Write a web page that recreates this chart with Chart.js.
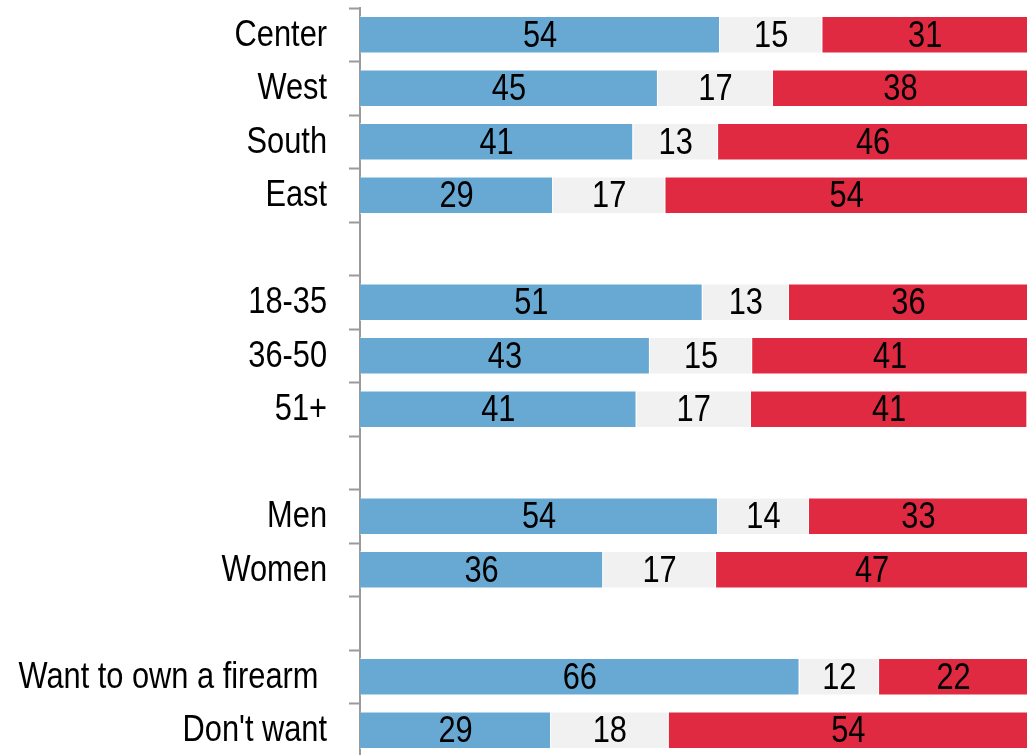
<!DOCTYPE html>
<html>
<head>
<meta charset="utf-8">
<script src="https://cdn.jsdelivr.net/npm/chart.js@4/dist/chart.umd.min.js"></script>
<style>
  html, body { margin: 0; padding: 0; background: #fff; overflow: hidden; }
  canvas { display: block; }
</style>
</head>
<body>
<canvas id="chartCanvas" width="1028" height="762"></canvas>
<script>
// categories (blank entries are the gaps between groups)
const categories = ['Center', 'West', 'South', 'East', '',
  '18-35', '36-50', '51+', '',
  'Men', 'Women', '',
  'Want to own a firearm ', "Don't want"];

// shares in %; labels show rounded values
const blueValues = [53.9, 44.6, 40.9, 28.9, null, 51.3, 43.4, 41.4, null, 53.6, 36.4, null, 65.8, 28.6];
const greyValues = [15.3, 17.2, 12.7, 16.8, null, 12.9, 15.3, 17.1, null, 13.6, 16.9, null, 11.9, 17.6];
const redValues  = [30.8, 38.2, 46.4, 54.3, null, 35.8, 41.3, 41.4, null, 32.8, 46.7, null, 22.3, 53.8];

const FONT = '36px "Liberation Sans", Arial, sans-serif';
const NARROW = 0.855; // squeeze Liberation Sans to look like Arial Narrow

function narrowText(ctx, text, x, y, align) {
    ctx.save();
    ctx.translate(x, y);
    ctx.scale(NARROW, 1);
    ctx.textAlign = align;
    ctx.fillText(text, 0, 0);
    ctx.restore();
}

const narrowLabels = {
    id: 'narrowLabels',
    afterDatasetsDraw(chart) {
        const ctx = chart.ctx;
        ctx.save();
        ctx.font = FONT;
        ctx.fillStyle = '#000';
        ctx.textBaseline = 'middle';
        // value labels in the bars
        chart.data.datasets.forEach((ds, i) => {
            chart.getDatasetMeta(i).data.forEach((bar, j) => {
                const v = ds.data[j];
                if (v == null) return;
                const p = bar.getCenterPoint();
                narrowText(ctx, String(Math.round(v)), p.x, p.y + 2, 'center');
            });
        });
        // category labels
        const yScale = chart.scales.y;
        categories.forEach((c, i) => {
            if (!c) return;
            narrowText(ctx, c, 327, yScale.getPixelForTick(i) + 1, 'right');
        });
        ctx.restore();
    }
};

const canvas = document.getElementById('chartCanvas').getContext('2d');

const chart = new Chart(canvas, {
    type: 'bar',
    data: {
        labels: categories,
        datasets: [
            { data: blueValues, backgroundColor: '#68a9d4', borderColor: 'rgba(255,255,255,0.5)', borderWidth: 1 },
            { data: greyValues, backgroundColor: '#f1f1f1', borderColor: 'rgba(255,255,255,0.5)', borderWidth: 1 },
            { data: redValues, backgroundColor: '#df2a42', borderColor: 'rgba(255,255,255,0.5)', borderWidth: 1 }
        ]
    },
    options: {
        indexAxis: 'y',
        responsive: false,
        animation: false,
        layout: { padding: { top: 8, bottom: 5, right: 0, left: 0 } },
        datasets: { bar: { categoryPercentage: 1, barPercentage: 0.7 } },
        plugins: { legend: { display: false }, tooltip: { enabled: false } },
        scales: {
            x: {
                display: false,
                stacked: true,
                min: 0,
                max: 100
            },
            y: {
                stacked: true,
                afterFit: scale => {
                    scale.width = 360;
                    scale.paddingTop = 0;
                    scale.paddingBottom = 0;
                },
                grid: {
                    offset: true,
                    drawOnChartArea: false,
                    tickLength: 11,
                    tickWidth: 2,
                    tickColor: '#9a9a9a'
                },
                border: { display: true, color: '#9a9a9a', width: 2 },
                ticks: { display: false }
            }
        }
    },
    plugins: [narrowLabels]
});
</script>
</body>
</html>
